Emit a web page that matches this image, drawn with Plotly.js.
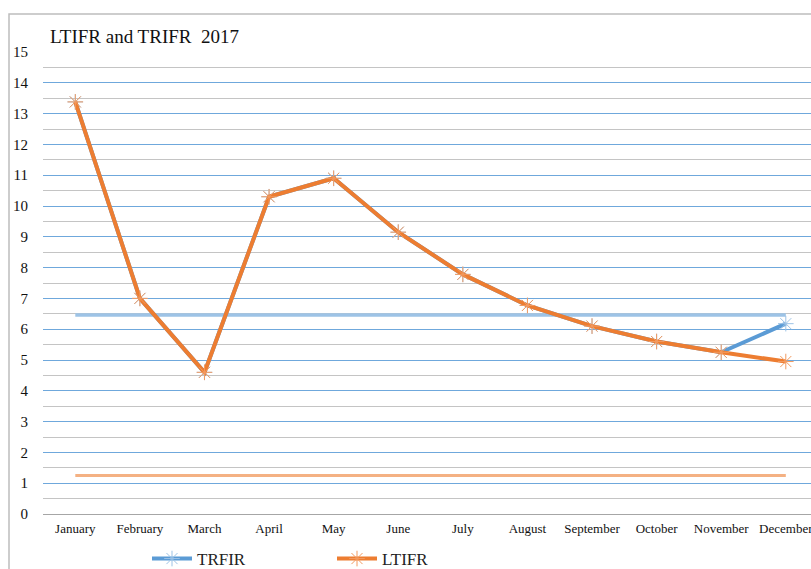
<!DOCTYPE html>
<html>
<head>
<meta charset="utf-8">
<script src="https://cdn.plot.ly/plotly-3.0.1.min.js"></script>
<style>html,body{margin:0;padding:0;background:#fff;}</style>
</head>
<body>
<div id="chart" style="width:811px;height:569px;"></div>
<script>
const months = ["January","February","March","April","May","June","July","August","September","October","November","December"];
const ltifr = [13.38, 7.0, 4.6, 10.3, 10.9, 9.15, 7.78, 6.77, 6.1, 5.6, 5.25, 4.95];
const trifr = [13.38, 7.0, 4.6, 10.3, 10.9, 9.15, 7.78, 6.77, 6.1, 5.6, 5.25, 6.18];
const trifrTarget = 6.46;
const ltifrTarget = 1.25;
const yTicks = [0,1,2,3,4,5,6,7,8,9,10,11,12,13,14,15];

const serif = "Liberation Serif, Times New Roman, serif";
const orange = "#ED7D31";
const blue = "#5B9BD5";

const traces = [
  {x:[months[0], months[months.length-1]], y:[trifrTarget, trifrTarget], type:"scatter", mode:"lines",
   line:{color:"#9DC3E6", width:3.5}, showlegend:false, hoverinfo:"skip"},
  {x:[months[0], months[months.length-1]], y:[ltifrTarget, ltifrTarget], type:"scatter", mode:"lines",
   line:{color:"#F4B183", width:3}, showlegend:false, hoverinfo:"skip"},
  {x:months, y:trifr, name:"TRFIR", type:"scatter", mode:"lines+markers",
   line:{color:blue, width:4}, marker:{symbol:"asterisk-open", size:13, color:"#9DC3E6", line:{color:"#7FB2E0", width:1}}},
  {x:months, y:ltifr, name:"LTIFR", type:"scatter", mode:"lines+markers",
   line:{color:orange, width:4}, marker:{symbol:"asterisk-open", size:13, color:"#F29A60", line:{color:"#F0955A", width:1}}}
];

const layout = {
  width:811, height:569,
  margin:{l:43, r:0, t:52, b:55, autoexpand:false},
  paper_bgcolor:"#fff", plot_bgcolor:"#fff",
  title:{text:"LTIFR and TRIFR\u00a0 2017", x:50/811, xanchor:"left", xref:"container",
         y:1-36/569, yanchor:"middle", yref:"container",
         font:{family:serif, size:19, color:"#111"}},
  xaxis:{type:"category", categoryorder:"array", categoryarray:months, range:[-0.5, 11.39],
         showgrid:false, zeroline:false,
         showline:true, linecolor:"#a6a6a6", linewidth:1.2, ticks:"", ticklabelstandoff:2,
         tickfont:{family:serif, size:13, color:"#111"}, fixedrange:true},
  yaxis:{range:[0,15], tickvals:yTicks, ticktext:yTicks.map(String), showgrid:true, gridcolor:"#6FA8DC", gridwidth:1,
         zeroline:false, showline:false, ticks:"", ticklabelstandoff:14,
         minor:{dtick:0.5, tick0:0.5, showgrid:true, gridcolor:"#c4c4c4", gridwidth:1},
         tickfont:{family:serif, size:15, color:"#111"}, fixedrange:true},
  legend:{orientation:"h", x:104/768, xanchor:"left", y:(514-559)/462, yanchor:"middle",
          entrywidth:130, entrywidthmode:"pixels", itemwidth:40,
          font:{family:serif, size:17, color:"#222"}, bgcolor:"rgba(0,0,0,0)"},
  shapes:[
    {type:"rect", xref:"paper", yref:"paper", x0:(9-43)/768, x1:1.2, y0:-0.3, y1:(514-14)/462,
     line:{color:"#bdbdbd", width:1.5}, fillcolor:"rgba(0,0,0,0)", layer:"below"}
  ],
  showlegend:true
};

Plotly.newPlot("chart", traces, layout, {displayModeBar:false, staticPlot:true});
</script>
</body>
</html>
